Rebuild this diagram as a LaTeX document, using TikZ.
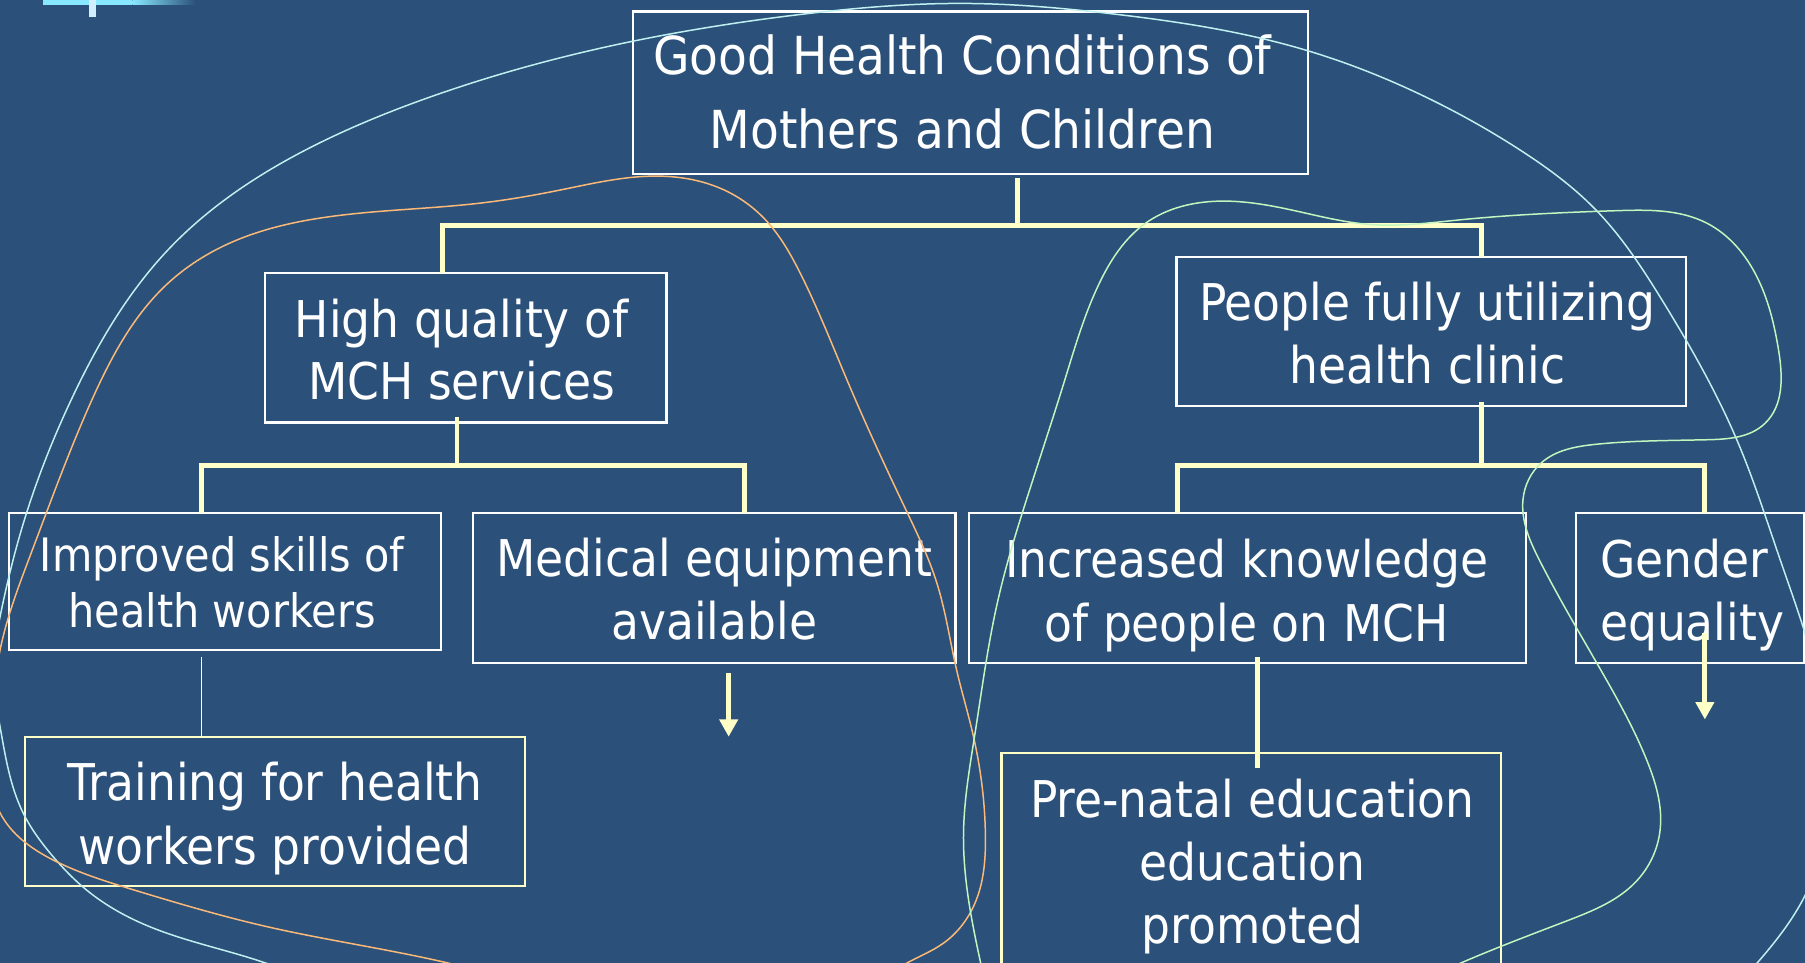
\documentclass[tikz,border=0pt]{standalone}
\usepackage{fontspec}
\setmainfont{DejaVu Sans Condensed}
\usetikzlibrary{arrows.meta,calc,hobby}
\definecolor{bg}{RGB}{43,80,121}
\definecolor{pyellow}{RGB}{255,255,200}
\definecolor{ccyan}{RGB}{190,240,240}
\definecolor{corange}{RGB}{250,185,120}
\definecolor{cgreen}{RGB}{195,245,190}
\definecolor{decocyan}{RGB}{136,232,255}
\definecolor{decotick}{RGB}{208,238,255}
\begin{document}
\begin{tikzpicture}[x=1pt,y=-1pt,
  box/.style={draw=white, line width=1.8pt, inner sep=0pt, outer sep=0pt},
  ybox/.style={box, draw=pyellow},
  txt/.style={text=white, align=center, inner sep=0pt, outer sep=0pt},
  conn/.style={draw=pyellow, line width=4.3pt},
  arr/.style={conn, -{Triangle[width=15.5pt,length=15pt]}},
  tline/.style={draw=white, line width=1.4pt},
  curve/.style={line width=1.3pt, use Hobby shortcut}]
\fill[bg] (0,0) rectangle (1568,836.5);
\useasboundingbox (0,0) rectangle (1568,836.5);
\clip (0,0) rectangle (1568,836.5);

% top-left decoration
\fill[decocyan] (37,0) rectangle (115,4);
\shade[left color=decocyan, right color=bg] (115,0) rectangle (170,4);
\fill[decotick] (77,0) rectangle (83,14.5);

% boxes
\node[box, minimum width=586, minimum height=141] (top) at (843,80.5) {};
\node[box, minimum width=349, minimum height=130] (hq) at (404.5,302) {};
\node[box, minimum width=443, minimum height=130] (people) at (1243.5,288) {};
\node[box, minimum width=375, minimum height=119] (imp) at (195.5,505.5) {};
\node[box, minimum width=419, minimum height=130] (med) at (620.5,511) {};
\node[box, minimum width=484, minimum height=130] (inc) at (1084,511) {};
\node[box, minimum width=198, minimum height=130] (gen) at (1468,511) {};
\node[ybox, minimum width=434, minimum height=130] (train) at (239,705) {};
\node[ybox, minimum width=434, minimum height=212] (pre) at (1087,760) {};

% texts
\node[txt, font=\fontsize{45.5}{63.8}\selectfont] (toptxt) at (836,79.8) {Good Health Conditions of\\Mothers and Children};
\node[txt, font=\fontsize{44}{54.5}\selectfont] (hqtxt) at (401,303.6) {High quality of\\MCH services};
\node[txt, font=\fontsize{44}{55.1}\selectfont] (peopletxt) at (1240,289.5) {People fully utilizing\\health clinic};
\node[txt, font=\fontsize{40}{49.2}\selectfont] (imptxt) at (193,506) {Improved skills of\\health workers};
\node[txt, font=\fontsize{44}{55}\selectfont] (medtxt) at (620.5,511.8) {Medical equipment\\available};
\node[txt, font=\fontsize{44}{55.6}\selectfont] (inctxt) at (1083,517.3) {Increased knowledge\\of people on MCH};
\node[txt, align=left, anchor=west, font=\fontsize{44}{55}\selectfont] (gentxt) at (1390,517) {Gender\\equality};
\node[txt, font=\fontsize{44}{55}\selectfont] (traintxt) at (239,711) {Training for health\\workers provided};
\node[txt, font=\fontsize{44}{54.75}\selectfont] (pretxt) at (1088,753) {Pre-natal education\\education\\promoted};

% junctions and free ends
\coordinate (b1) at (883.5,195.5);
\coordinate (b2) at (397,404);
\coordinate (b3) at (1287,404);
\coordinate (medend) at (633,640);
\coordinate (genend) at (1481,625);

% connectors
\draw[conn] ($(top.south)+(40.5,3.5)$) -- (b1);
\draw[conn] ($(hq.north)+(-20.5,0)$) |- (b1) -| ($(people.north)+(43.5,0)$);
\draw[conn] ($(hq.south)+(-7.5,-5)$) -- (b2);
\draw[conn] ($(imp.north)+(-20.5,0)$) |- (b2) -| ($(med.north)+(26.5,0)$);
\draw[conn] ($(people.south)+(43.5,-4)$) -- (b3);
\draw[conn] ($(inc.north)+(-61.3,0)$) |- (b3) -| ($(gen.north)+(13,0)$);
\draw[tline] ($(imp.south)+(-20.5,6)$) -- ($(train.north)+(-64,0)$);
\draw[conn] ($(inc.south)+(8.5,-5)$) -- ($(pre.north)+(5.5,13)$);
\draw[arr] ($(med.south -| medend)+(0,9)$) -- (medend);
\draw[arr] ($(gen.south -| genend)+(0,-26)$) -- (genend);

% freehand curves
\draw[curve, ccyan] (275,855) .. (232,837) .. (130,805) .. (75,773) .. (46,744) .. (20,706) .. (0,631) .. (-6,585) .. (0,536) .. (22,449) .. (62,347) .. (146,217) .. (266,130) .. (366,87) .. (521,42) .. (700,12) .. (840,3) .. (966,12) .. (1129,42) .. (1240,85) .. (1320,130) .. (1386,182) .. (1444,261) .. (1510,385) .. (1546,485) .. (1568,550) .. (1590,660) .. (1568,778) .. (1526,837) .. (1505,860);
\draw[curve, corange] (440,850) .. (391,837) .. (232,805) .. (116,773) .. (46,747) .. (0,706) .. (-8,640) .. (0,565) .. (28,478) .. (80,347) .. (146,246) .. (200,211) .. (288,188) .. (421,176) .. (487,165) .. (572,153) .. (629,165) .. (665,191) .. (695,237) .. (737,333) .. (787,443) .. (814,507) .. (831,582) .. (845,637) .. (856,724) .. (848,782) .. (820,819) .. (787,837) .. (765,852);
\draw[curve, cgreen] (856,855) .. (852,837) .. (837,724) .. (847,637) .. (867,521) .. (893,430) .. (925,330) .. (955,246) .. (995,194) .. (1053,175) .. (1120,182) .. (1190,195) .. (1268,191) .. (1405,183) .. (1483,194) .. (1526,240) .. (1545,304) .. (1533,368) .. (1483,382) .. (1386,386) .. (1339,402) .. (1323,434) .. (1338,488) .. (1390,581) .. (1430,659) .. (1442,722) .. (1422,765) .. (1361,800) .. (1268,837) .. (1235,852);
\end{tikzpicture}
\end{document}
